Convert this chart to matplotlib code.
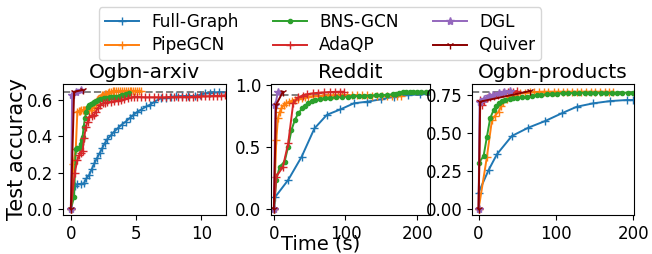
import matplotlib
matplotlib.use("Agg")
import matplotlib.pyplot as plt

# ---- data ----
methods = ["Full-Graph", "PipeGCN", "BNS-GCN", "AdaQP", "DGL", "Quiver"]
colors = ["tab:blue", "tab:orange", "tab:green", "tab:red", "tab:purple", "darkred"]
markers = ["+", "+", ".", "+", "*", "1"]

titles = ["Ogbn-arxiv", "Reddit", "Ogbn-products"]
target_acc = [0.642, 0.92, 0.772]

# Ogbn-arxiv
arxiv_full_t = [0, 0.3, 0.5, 0.8, 1.0, 1.2, 1.4, 1.6, 1.8, 2.0, 2.2, 2.4, 2.6, 2.8, 3.1, 3.3, 3.6, 3.9,
                4.2, 4.5, 4.8, 5.1, 5.4, 5.8, 6.1, 6.4, 6.9, 7.3, 7.7, 8.1, 8.5, 9.0, 9.5, 9.9, 10.3,
                10.7, 11.0, 11.4, 11.9]
arxiv_full_a = [0.0, 0.13, 0.139, 0.14, 0.143, 0.17, 0.188, 0.22, 0.252, 0.28, 0.307, 0.335, 0.362, 0.385,
                0.408, 0.425, 0.445, 0.465, 0.481, 0.5, 0.518, 0.535, 0.548, 0.565, 0.575, 0.59, 0.61,
                0.613, 0.618, 0.62, 0.622, 0.622, 0.622, 0.628, 0.637, 0.64, 0.642, 0.642, 0.642]
arxiv_pipe_t = [0, 0.2, 0.38, 0.5, 0.6, 0.7, 0.8, 0.9, 1.0, 1.1, 1.2, 1.3, 1.4, 1.54, 1.65, 1.79, 1.9, 2.0,
                2.1, 2.2, 2.31, 2.4, 2.5, 2.6, 2.7, 2.82, 2.95, 3.1, 3.2, 3.33, 3.45, 3.6, 3.75, 3.9,
                4.05, 4.2, 4.35, 4.5, 4.65, 4.8, 4.95, 5.1, 5.25, 5.38]
arxiv_pipe_a = [0.0, 0.25, 0.333, 0.535, 0.54, 0.542, 0.545, 0.545, 0.546, 0.547, 0.547, 0.547, 0.547,
                0.547, 0.555, 0.563, 0.58, 0.598, 0.605, 0.612, 0.618, 0.625, 0.63, 0.632, 0.635, 0.637,
                0.642, 0.646, 0.649, 0.651, 0.651, 0.651, 0.651, 0.651, 0.651, 0.651, 0.651, 0.651,
                0.651, 0.651, 0.651, 0.651, 0.651, 0.651]
arxiv_bns_t = [0, 0.25, 0.38, 0.5, 0.64, 0.75, 0.82, 0.9, 0.98, 1.08, 1.18, 1.28, 1.4, 1.55, 1.68, 1.79, 1.95,
               2.1, 2.25, 2.4, 2.56, 2.7, 2.85, 3.0, 3.15, 3.3, 3.45, 3.59, 3.75, 3.9, 4.05, 4.2, 4.35, 4.49]
arxiv_bns_a = [0.0, 0.069, 0.333, 0.334, 0.335, 0.36, 0.38, 0.398, 0.45, 0.5, 0.535, 0.563, 0.572, 0.58,
               0.585, 0.59, 0.595, 0.6, 0.603, 0.606, 0.609, 0.611, 0.613, 0.614, 0.615, 0.616, 0.617,
               0.618, 0.622, 0.626, 0.63, 0.633, 0.635, 0.637]
arxiv_ada_t = [0, 0.3, 0.5, 0.64, 0.77, 0.9, 1.02, 1.15, 1.28, 1.41, 1.6, 1.79, 1.92, 2.05, 2.25, 2.44, 2.6,
               2.8, 3.08, 3.3, 3.6, 3.85, 4.1, 4.4, 4.6, 4.87, 5.1, 5.4, 5.7, 6.0, 6.41, 6.7, 7.0, 7.3,
               7.6, 7.9, 8.2, 8.5, 8.8, 9.1, 9.4, 9.7, 10.0, 10.3, 10.6, 10.9, 11.2, 11.5, 11.8, 12.0]
arxiv_ada_a = [0.0, 0.2, 0.27, 0.298, 0.31, 0.32, 0.39, 0.453, 0.48, 0.508, 0.515, 0.52, 0.537, 0.554, 0.57,
               0.582, 0.586, 0.588, 0.59, 0.594, 0.597, 0.6, 0.605, 0.611, 0.614, 0.618, 0.617, 0.616,
               0.615, 0.615, 0.615, 0.615, 0.614, 0.615, 0.616, 0.615, 0.616, 0.617, 0.616, 0.617,
               0.618, 0.619, 0.62, 0.62, 0.621, 0.622, 0.623, 0.624, 0.625, 0.625]
arxiv_dgl_t = [0, 0.1, 0.38, 0.77]
arxiv_dgl_a = [0.0, 0.63, 0.645, 0.654]
arxiv_quiver_t = [0, 0.25, 0.9]
arxiv_quiver_a = [0.0, 0.645, 0.655]

# Reddit
reddit_full_t = [0, 2, 20, 38.8, 56.6, 74, 93, 111.8, 130.7, 149.5, 168.4, 187.3, 203.7, 220]
reddit_full_a = [0.0, 0.1, 0.236, 0.423, 0.65, 0.76, 0.804, 0.853, 0.866, 0.885, 0.906, 0.919, 0.925, 0.928]
reddit_pipe_t = [0, 3.4, 5.7, 8, 10.5, 14, 17.5, 21, 25, 29, 34, 39, 44, 48, 55, 62, 69, 76, 83, 90, 95,
                 102, 109, 116, 123, 130, 137, 144, 151, 158, 165, 172, 177.8]
reddit_pipe_a = [0.0, 0.557, 0.732, 0.78, 0.812, 0.84, 0.853, 0.865, 0.873, 0.88, 0.89, 0.898, 0.903,
                 0.906, 0.909, 0.912, 0.914, 0.916, 0.917, 0.918, 0.919, 0.918, 0.917, 0.917, 0.916,
                 0.916, 0.915, 0.915, 0.915, 0.914, 0.914, 0.914, 0.914]
reddit_bns_t = [0, 3.4, 8, 15, 20, 24.6, 29.3, 34, 39.6, 44, 48, 53, 57.6, 64, 71.7, 79, 87, 95, 103, 111,
                118.8, 126, 134, 142, 150, 158, 166, 170, 175, 180, 185, 190, 194, 200, 206, 213, 220]
reddit_bns_a = [0.0, 0.236, 0.343, 0.383, 0.504, 0.638, 0.718, 0.772, 0.812, 0.835, 0.853, 0.868, 0.879,
                0.887, 0.893, 0.897, 0.9, 0.903, 0.906, 0.909, 0.911, 0.913, 0.915, 0.917, 0.919, 0.921,
                0.925, 0.93, 0.938, 0.941, 0.943, 0.945, 0.946, 0.946, 0.946, 0.946, 0.946]
reddit_ada_t = [0, 3.4, 12.7, 20, 27, 34, 40, 45.8, 54, 62, 70, 78, 86, 92, 97.6]
reddit_ada_a = [0.0, 0.262, 0.343, 0.531, 0.853, 0.9, 0.915, 0.925, 0.932, 0.938, 0.94, 0.943, 0.945,
                0.946, 0.946]
reddit_dgl_t = [0, 2, 5.7]
reddit_dgl_a = [0.0, 0.839, 0.946]
reddit_quiver_t = [0, 3, 12.7]
reddit_quiver_a = [0.0, 0.84, 0.946]

# Ogbn-products
prod_full_t = [0, 13, 23.7, 43, 64.5, 86, 107.6, 127, 148, 170, 191.5, 200]
prod_full_a = [0.11, 0.258, 0.361, 0.481, 0.536, 0.579, 0.63, 0.673, 0.695, 0.71, 0.717, 0.717]
prod_pipe_t = [0, 10.8, 17.3, 21.5, 25.8, 29, 32, 36.5, 41, 47, 53.8, 60, 66, 72, 78, 84, 90, 97, 103, 109,
               115, 121, 127, 133, 139, 145, 151, 157, 163, 169, 174]
prod_pipe_a = [0.0, 0.345, 0.586, 0.615, 0.64, 0.675, 0.706, 0.725, 0.739, 0.752, 0.761, 0.765, 0.768,
               0.77, 0.771, 0.772, 0.772, 0.772, 0.772, 0.772, 0.772, 0.772, 0.772, 0.772, 0.772, 0.772,
               0.772, 0.772, 0.772, 0.772, 0.772]
prod_bns_t = [0, 6.5, 10.8, 15, 19.4, 22.5, 25.8, 30, 34.5, 40, 45, 50, 56, 62.5, 69, 75, 81, 88, 95, 102,
              109, 116, 123, 130, 137, 144, 151, 158, 165, 172, 179, 186, 193, 200]
prod_bns_a = [0.302, 0.35, 0.476, 0.597, 0.651, 0.675, 0.695, 0.708, 0.717, 0.723, 0.728, 0.732, 0.736,
              0.739, 0.744, 0.748, 0.751, 0.754, 0.757, 0.759, 0.761, 0.762, 0.763, 0.764, 0.765, 0.765,
              0.765, 0.765, 0.765, 0.765, 0.765, 0.765, 0.765, 0.765]
prod_ada_t = [0, 2.2, 4.4, 7.5, 10.8, 15, 19.4, 25, 32, 38, 44, 49.5]
prod_ada_a = [0.0, 0.717, 0.684, 0.71, 0.728, 0.736, 0.743, 0.752, 0.761, 0.767, 0.772, 0.776]
prod_dgl_t = [0, 1.3, 7, 13, 19, 25.8, 33, 41]
prod_dgl_a = [0.0, 0.706, 0.725, 0.743, 0.752, 0.761, 0.768, 0.776]
prod_quiver_t = [0, 2, 66.7]
prod_quiver_a = [0.0, 0.706, 0.776]

series = [
    [(arxiv_full_t, arxiv_full_a), (arxiv_pipe_t, arxiv_pipe_a), (arxiv_bns_t, arxiv_bns_a),
     (arxiv_ada_t, arxiv_ada_a), (arxiv_dgl_t, arxiv_dgl_a), (arxiv_quiver_t, arxiv_quiver_a)],
    [(reddit_full_t, reddit_full_a), (reddit_pipe_t, reddit_pipe_a), (reddit_bns_t, reddit_bns_a),
     (reddit_ada_t, reddit_ada_a), (reddit_dgl_t, reddit_dgl_a), (reddit_quiver_t, reddit_quiver_a)],
    [(prod_full_t, prod_full_a), (prod_pipe_t, prod_pipe_a), (prod_bns_t, prod_bns_a),
     (prod_ada_t, prod_ada_a), (prod_dgl_t, prod_dgl_a), (prod_quiver_t, prod_quiver_a)],
]

xlims = [(-0.6, 11.9), (-4, 218), (-8.5, 201)]
ylims = [(-0.031, 0.688), (-0.046, 1.008), (-0.037, 0.822)]
xticks = [[0, 5, 10], [0, 100, 200], [0, 100, 200]]
yticks = [[0.0, 0.2, 0.4, 0.6], [0.0, 0.5, 1.0], [0.0, 0.25, 0.5, 0.75]]
yfmt = ["%.1f", "%.1f", "%.2f"]

# panel spans in pixels (left, right); all share bottom/top
W, H = 652.0, 254.0
spans = [(63, 226), (271, 430), (472, 634)]
bottom, top = 215, 84

fig = plt.figure(figsize=(6.52, 2.54), dpi=100)
axes = [fig.add_axes([l / W, 1 - bottom / H, (r - l) / W, (bottom - top) / H]) for l, r in spans]

for i, ax in enumerate(axes):
    for j, (t, a) in enumerate(series[i]):
        ax.plot(t, a, color=colors[j], marker=markers[j], markersize=6, linewidth=1.4,
                label=methods[j])
    ax.axhline(target_acc[i], color="gray", linestyle="--", linewidth=1.4, zorder=0)
    ax.set_title(titles[i], fontsize=14.5, pad=4)
    ax.set_xlim(*xlims[i])
    ax.set_ylim(*ylims[i])
    ax.set_xticks(xticks[i])
    ax.set_yticks(yticks[i])
    ax.set_yticklabels([yfmt[i] % v for v in yticks[i]])
    ax.tick_params(labelsize=12)

axes[0].set_ylabel("Test accuracy", fontsize=15, labelpad=0)
fig.text(0.491, 0.0, "Time (s)", fontsize=14, ha="center", va="bottom")

handles, labels = axes[0].get_legend_handles_labels()
fig.legend(handles, labels, loc="upper center", bbox_to_anchor=(0.491, 1.004), ncol=3, fontsize=12.2,
           handlelength=2.0, handletextpad=0.75, columnspacing=2.0, borderpad=0.35, labelspacing=0.3)

fig.savefig("out.png", dpi=100)
